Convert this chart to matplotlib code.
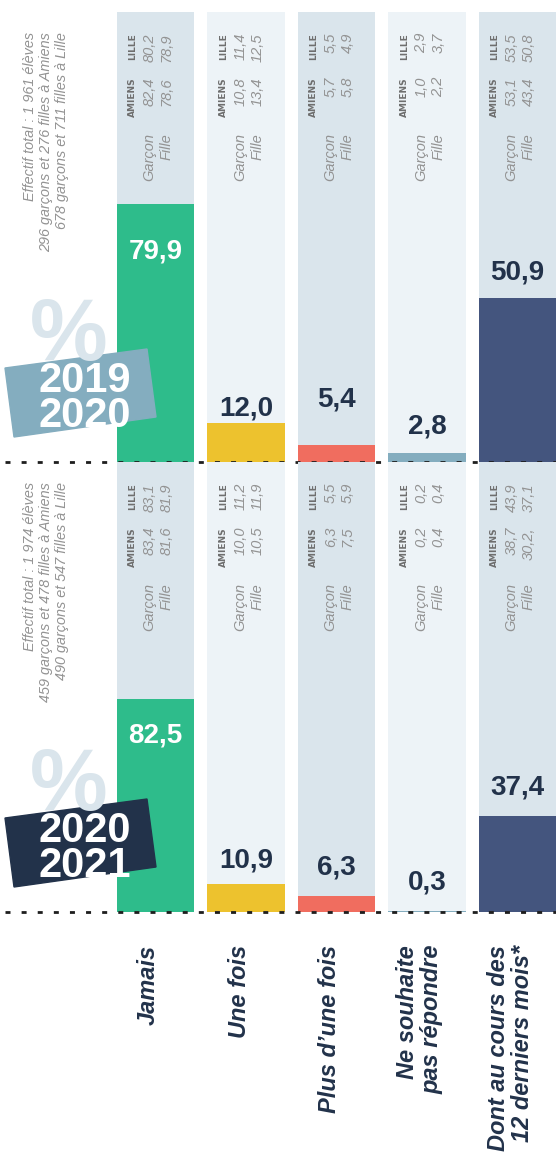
import matplotlib.pyplot as plt
from matplotlib.patches import Polygon
from matplotlib.transforms import blended_transform_factory

plt.rcParams['font.family'] = ['Liberation Sans', 'DejaVu Sans']

# données
categories = ['Jamais', 'Une fois', 'Plus d\u2019une fois',
              'Ne souhaite\npas répondre', 'Dont au cours des\n12 derniers mois*']
values_1920 = [79.9, 12.0, 5.4, 2.8, 50.9]
values_2021 = [82.5, 10.9, 6.3, 0.3, 37.4]

amiens_garcon_1920 = ['82,4', '10,8', '5,7', '1,0', '53,1']
amiens_fille_1920 = ['78,6', '13,4', '5,8', '2,2', '43,4']
lille_garcon_1920 = ['80,2', '11,4', '5,5', '2,9', '53,5']
lille_fille_1920 = ['78,9', '12,5', '4,9', '3,7', '50,8']

amiens_garcon_2021 = ['83,4', '10,0', '6,3', '0,2', '38,7']
amiens_fille_2021 = ['81,6', '10,5', '7,5', '0,4', '30,2,']
lille_garcon_2021 = ['83,1', '11,2', '5,5', '0,2', '43,9']
lille_fille_2021 = ['81,9', '11,9', '5,9', '0,4', '37,1']

effectif_1920 = ['Effectif total : 1 961 élèves',
                 '296 garçons et 276 filles à Amiens',
                 '678 garçons et 711 filles à Lille']
effectif_2021 = ['Effectif total : 1 974 élèves',
                 '459 garçons et 478 filles à Amiens',
                 '490 garçons et 547 filles à Lille']

# style
W, H = 556, 1159
PX = 90.5          # pixels par colonne
BW = 77.5 / PX     # largeur d'une colonne
bar_colors = ['#2ebc8b', '#edc22e', '#f06d5f', '#84adbf', '#44557e']
bg_colors = ['#dae5ec', '#edf3f7', '#dae5ec', '#edf3f7', '#dae5ec']
navy = '#22324a'
grey = '#939393'

fig = plt.figure(figsize=(W / 100, H / 100), dpi=100, facecolor='white')


def fx(px):
    return px / W


def fy(py):
    return 1 - py / H


def section(top, ymax, values, rows, effectif, years, badge_color, label_dy):
    ax = fig.add_axes([0, fy(top + 450), 1, 450 / H])
    ax.set_xlim(-155.5 / PX, (W - 155.5) / PX)
    ax.set_ylim(0, ymax)
    ax.axis('off')
    x = list(range(len(values)))
    ax.bar(x, [ymax] * len(x), width=BW, color=bg_colors, zorder=1)
    ax.bar(x, values, width=BW, color=bar_colors, zorder=2)
    ax.axhline(0, xmin=5 / W, xmax=1, color='#1e1e1e', lw=2,
               linestyle=(0, (1.8, 4.0)), zorder=6, clip_on=False)

    # valeurs
    for i, v in enumerate(values):
        inside = label_dy[i] < 0
        ax.annotate(f'{v:.1f}'.replace('.', ','), xy=(i, v),
                    xytext=(0, label_dy[i] / 1.389), textcoords='offset points',
                    ha='center', va='center', fontsize=20, fontweight='bold',
                    color='white' if inside else navy, zorder=4)

    # petits tableaux
    tr = blended_transform_factory(ax.transData, ax.transAxes)
    kw = dict(transform=tr, rotation=90, rotation_mode='anchor',
              ha='right', va='center', zorder=4)
    ag, af, lg, lf = rows
    for i in x:
        left = i - BW / 2
        cx = lambda d: left + d / PX
        cy = lambda d: 1 - d / 450
        ax.text(cx(16), cy(65), 'AMIENS', fontsize=6.5, fontweight='bold',
                color='#6e6e6e', family='DejaVu Sans', **kw)
        ax.text(cx(16), cy(21), 'LILLE', fontsize=6.5, fontweight='bold',
                color='#6e6e6e', family='DejaVu Sans', **kw)
        for d, lab, a, l in [(33, 'Garçon', ag[i], lg[i]), (50, 'Fille', af[i], lf[i])]:
            ax.text(cx(d), cy(121), lab, fontsize=10.5, style='italic', color=grey, **kw)
            ax.text(cx(d), cy(65), a, fontsize=10.5, style='italic', color=grey, **kw)
            ax.text(cx(d), cy(21), l, fontsize=10.5, style='italic', color=grey, **kw)

    # effectifs
    fig.text(fx(46), fy(top + 20), '\n'.join(effectif), rotation=90,
             rotation_mode='anchor', ha='right', va='center', multialignment='right',
             fontsize=10.4, style='italic', color=grey, linespacing=1.2)

    # % et badge
    fig.text(fx(69), fy(top + 348), '%', ha='center', va='baseline', fontsize=63,
             fontweight='bold', color='#dae5ec', zorder=3)
    corners = [(5, 356), (147, 337), (156, 405), (14, 425)]
    fig.patches.append(Polygon([(fx(a), fy(top + b)) for a, b in corners], closed=True,
                               transform=fig.transFigure, color=badge_color, zorder=3))
    fig.text(fx(85), fy(top + 380), years[0], ha='center', va='baseline', fontsize=30,
             fontweight='bold', color='white', zorder=5)
    fig.text(fx(85), fy(top + 415), years[1], ha='center', va='baseline', fontsize=30,
             fontweight='bold', color='white', zorder=5)
    return ax


section(12, 450 / 3.23, values_1920,
        (amiens_garcon_1920, amiens_fille_1920, lille_garcon_1920, lille_fille_1920),
        effectif_1920, ('2019', '2020'), '#84adbf', [-48, 15, 45, 26, 25])
section(462, 450 / 2.58, values_2021,
        (amiens_garcon_2021, amiens_fille_2021, lille_garcon_2021, lille_fille_2021),
        effectif_2021, ('2020', '2021'), '#22324a', [-36, 23, 28, 29, 28])

# libellés
for i, cat in enumerate(categories):
    fig.text(fx(155.5 + PX * i - 7), fy(945), cat, rotation=90, rotation_mode='anchor',
             ha='right', va='center', multialignment='right', fontsize=17,
             fontweight='bold', style='italic', color=navy, linespacing=1.1)

fig.savefig('out.png', dpi=100, facecolor='white')
